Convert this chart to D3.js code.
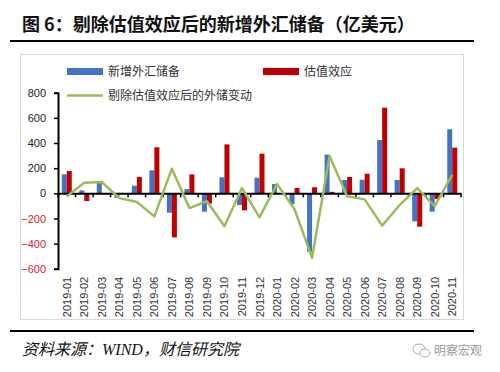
<!DOCTYPE html>
<html>
<head>
<meta charset="utf-8">
<script src="https://cdn.jsdelivr.net/npm/d3@7"></script>
<style>
  body { margin: 0; background: #fff; }
  svg { display: block; }
</style>
</head>
<body>
<svg id="chart" width="500" height="372"></svg>
<script>
// data, 亿美元
const months = ["2019-01","2019-02","2019-03","2019-04","2019-05","2019-06","2019-07","2019-08","2019-09","2019-10","2019-11","2019-12",
                "2020-01","2020-02","2020-03","2020-04","2020-05","2020-06","2020-07","2020-08","2020-09","2020-10","2020-11"];
const newReserves = [151, 24, 87, -35, 61, 183, -154, 34, -146, 127, -93, 124, 74, -85, -464, 308, 106, 108, 424, 106, -223, -146, 509];
const valuation   = [177, -61, -3, 3, 130, 366, -350, 151, -83, 389, -135, 315, 0, 42, 48, 12, 130, 156, 681, 199, -265, -45, 363];
const adjusted    = [-26, 85, 90, -38, -69, -183, 196, -117, -63, -262, 42, -191, 74, -127, -512, 296, -24, -48, -257, -93, 42, -101, 146];
const yTicks = [-600, -400, -200, 0, 200, 400, 600, 800];

const svg = d3.select("#chart");
const cjk = "'Noto Sans CJK SC', sans-serif";
const num = "'Liberation Sans', Arial, sans-serif";

const margin = { left: 58, right: 39, top: 92.7, bottom: 103.2 };
const innerW = 500 - margin.left - margin.right;
const innerH = 372 - margin.top - margin.bottom;

// title + rules
svg.append("text")
  .attr("x", 22).attr("y", 31)
  .attr("font-family", "'Noto Sans CJK SC', serif")
  .attr("font-weight", "bold")
  .attr("font-size", 18)
  .attr("fill", "#111")
  .text("图 6：剔除估值效应后的新增外汇储备（亿美元）");
svg.append("line").attr("x1", 10).attr("x2", 474).attr("y1", 41).attr("y2", 41)
  .attr("stroke", "#000").attr("stroke-width", 2);
svg.append("line").attr("x1", 10).attr("x2", 474).attr("y1", 331).attr("y2", 331)
  .attr("stroke", "#000").attr("stroke-width", 2);

// chart frame
svg.append("rect")
  .attr("x", 20.5).attr("y", 54.5).attr("width", 443).attr("height", 265)
  .attr("fill", "none").attr("stroke", "#d9d9d9");

const g = svg.append("g").attr("transform", `translate(${margin.left},${margin.top})`);

const x = d3.scaleBand().domain(months).range([0, innerW]).padding(0);
const xs = d3.scaleBand().domain(["blue", "red"]).range([0, x.bandwidth()]).paddingInner(0).paddingOuter(0.75);
const y = d3.scaleLinear().domain([-600, 800]).range([innerH, 0]);

const colors = { blue: "#4472C4", red: "#C00000", green: "#9BBB59" };

// bars
const rows = months.map((m, i) => ({ m, blue: newReserves[i], red: valuation[i] }));
["blue", "red"].forEach(key => {
  g.append("g").selectAll("rect")
    .data(rows)
    .join("rect")
    .attr("x", d => x(d.m) + xs(key))
    .attr("width", xs.bandwidth())
    .attr("y", d => y(Math.max(0, d[key])))
    .attr("height", d => Math.abs(y(d[key]) - y(0)))
    .attr("fill", colors[key]);
});

// y axis
const yAxis = d3.axisLeft(y).tickValues(yTicks).tickSize(4).tickPadding(8);
const gy = g.append("g").call(yAxis);
gy.select(".domain").attr("stroke", "#000").attr("stroke-width", 2);
gy.selectAll(".tick line").attr("stroke", "#000").attr("stroke-width", 1.5);
gy.selectAll(".tick text")
  .attr("font-family", num).attr("font-size", 11)
  .attr("fill", d => d < 0 ? "#e0202a" : "#222");

// x axis at zero line
const xAxis = d3.axisBottom(x).tickSize(0).tickFormat("");
const gx = g.append("g").attr("transform", `translate(0,${y(0)})`).call(xAxis);
gx.select(".domain").attr("stroke", "#000").attr("stroke-width", 2);
gx.selectAll(".tick").remove();
gx.selectAll(".bound")
  .data(d3.range(months.length + 1))
  .join("line")
  .attr("x1", i => i * x.step()).attr("x2", i => i * x.step())
  .attr("y1", 0).attr("y2", 4)
  .attr("stroke", "#000").attr("stroke-width", 1.5);

// x labels, low position, rotated
g.append("g").selectAll("text")
  .data(months)
  .join("text")
  .attr("transform", d => `translate(${x(d) + x.bandwidth() / 2 + 4},${y(-600) + 8}) rotate(-90)`)
  .attr("text-anchor", "end")
  .attr("font-family", num).attr("font-size", 11)
  .attr("fill", "#333")
  .text(d => d);

// line
const line = d3.line()
  .x((d, i) => x(months[i]) + x.bandwidth() / 2)
  .y(d => y(d));
g.append("path")
  .datum(adjusted)
  .attr("d", line)
  .attr("fill", "none")
  .attr("stroke", colors.green)
  .attr("stroke-width", 2.5)
  .attr("stroke-linejoin", "round");

// legend
const legend = [
  { label: "新增外汇储备", color: colors.blue, type: "bar", x: 67, y: 71.5 },
  { label: "估值效应", color: colors.red, type: "bar", x: 263, y: 71.5 },
  { label: "剔除估值效应后的外储变动", color: colors.green, type: "line", x: 67, y: 95.5 }
];
const lg = svg.append("g").selectAll("g").data(legend).join("g")
  .attr("transform", d => `translate(${d.x},${d.y})`);
lg.append("rect")
  .attr("x", 0).attr("width", 36)
  .attr("y", d => d.type === "bar" ? -3.5 : -1.25)
  .attr("height", d => d.type === "bar" ? 7 : 2.5)
  .attr("fill", d => d.color);
lg.append("text")
  .attr("x", 41).attr("y", 4.5)
  .attr("font-family", cjk).attr("font-size", 12)
  .attr("fill", "#333")
  .text(d => d.label);

// source
svg.append("text")
  .attr("x", 22).attr("y", 355)
  .attr("font-family", "'Liberation Serif', 'Noto Sans CJK SC', serif")
  .attr("font-style", "italic")
  .attr("font-size", 16)
  .attr("fill", "#111")
  .text("资料来源：WIND，财信研究院");

// watermark
const wm = svg.append("g").attr("transform", "translate(419,350)");
wm.append("ellipse").attr("cx", 0).attr("cy", -1).attr("rx", 6).attr("ry", 5)
  .attr("fill", "none").attr("stroke", "#aaa").attr("stroke-width", 1);
wm.append("ellipse").attr("cx", 6).attr("cy", 3).attr("rx", 5).attr("ry", 4)
  .attr("fill", "#fff").attr("stroke", "#aaa").attr("stroke-width", 1);
svg.append("text")
  .attr("x", 434).attr("y", 355)
  .attr("font-family", cjk).attr("font-size", 12)
  .attr("fill", "#999")
  .text("明察宏观");
</script>
</body>
</html>
